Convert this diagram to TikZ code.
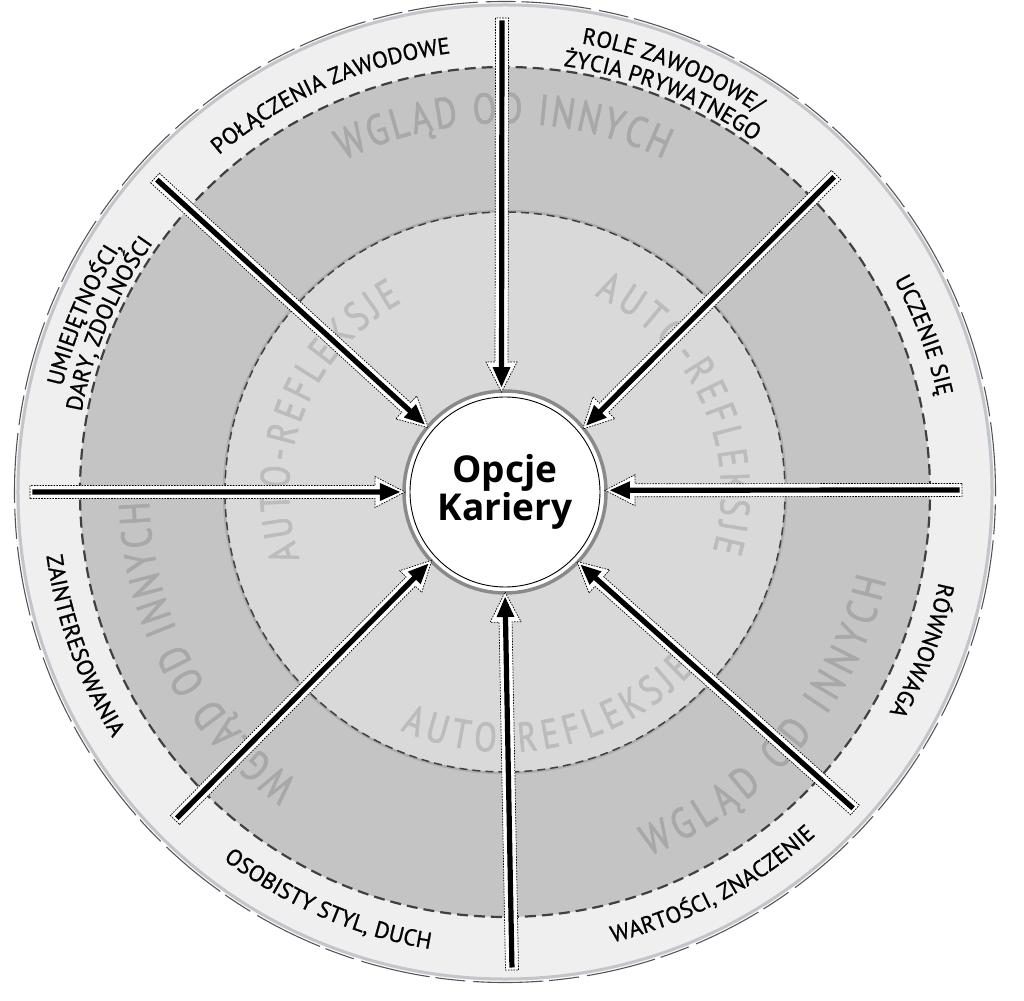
\documentclass[tikz,border=0pt]{standalone}
\usepackage{fontspec}
\setmainfont{Open Sans}
\newfontfamily\lblfamily[FakeBold=0.8]{PT Sans}
\newfontfamily\grayfamily[FakeBold=1.6,FakeStretch=0.8]{PT Sans}
\newfontfamily\ctrfamily{Open Sans}
\usetikzlibrary{decorations.text,decorations.markings}
\definecolor{bandcol}{HTML}{EFEFEF}
\definecolor{ringcol}{HTML}{C4C4C4}
\definecolor{diskcol}{HTML}{D9D9D9}
\definecolor{dashcol}{HTML}{404040}
\definecolor{rimlight}{HTML}{C2C6CA}
\definecolor{rimdark}{HTML}{555555}
\definecolor{gtxtA}{HTML}{A8A8A8}
\definecolor{gtxtB}{HTML}{BCBCBC}
\definecolor{ringgray}{HTML}{8A8A8A}
\newcommand\lblsize{\lblfamily\fontsize{23}{23}\selectfont}
\newcommand\gsizeA{\grayfamily\fontsize{43}{43}\selectfont\color{gtxtA}}
\newcommand\gsizeB{\grayfamily\fontsize{41}{41}\selectfont\color{gtxtB}}
% clockwise label: centre angle, baseline radius, text
\newcommand\cwtext[3]{\path[decorate, decoration={text along path, text align=center, text={|\lblsize|#3}}] ({#1+60}:#2) arc[start angle={#1+60}, end angle={#1-60}, radius=#2];}
% counter-clockwise label
\newcommand\ccwtext[3]{\path[decorate, decoration={text along path, text align=center, text={|\lblsize|#3}}] ({#1-60}:#2) arc[start angle={#1-60}, end angle={#1+60}, radius=#2];}
% fitted grey text: start angle, end angle, baseline radius, format, text
\newcommand\fittext[5]{\path[decorate, decoration={text along path, text align=fit to path, text={|#4|#5}}] (#1:#3) arc[start angle=#1, end angle=#2, radius=#3];}
\tikzset{
  bigarrow/.style={postaction={decorate, decoration={markings, mark=at position 0 with {
     \pgfmathsetmacro\arrL{\pgfdecoratedpathlength}
     \filldraw[fill=white, draw=black, line width=0.7pt, dash pattern=on 1.6pt off 1.2pt]
        (0,-6.5) -- ({\arrL-30},-6.5) -- ({\arrL-30},-15.5) -- (\arrL,0) -- ({\arrL-30},15.5) -- ({\arrL-30},6.5) -- (0,6.5) -- cycle;
     \fill[black] (2.5,-2.6) -- ({\arrL-25},-2.6) -- ({\arrL-25},-9) -- ({\arrL-5},0) -- ({\arrL-25},9) -- ({\arrL-25},2.6) -- (2.5,2.6) -- cycle;
  }}}},
  centre/.style={circle, fill=white, minimum size=200pt, inner sep=0pt, outer sep=0pt, align=center,
     font=\ctrfamily\bfseries\fontsize{37}{32}\selectfont}
}
\begin{document}
\begin{tikzpicture}[x=1pt,y=1pt]
\useasboundingbox (-505,-508) rectangle (519,492);
\fill[white] (-505,-508) rectangle (519,492);
% rings
\fill[bandcol] (0,0) circle[radius=489];
\draw[rimlight, line width=3pt] (0,0) circle[radius=487];
\draw[rimdark, line width=1.1pt, dash pattern=on 70pt off 6pt on 30pt off 8pt] (0,0) circle[radius=490.5];
\fill[ringcol] (0,0) circle[radius=425];
\draw[dashcol, line width=2.2pt, dash pattern=on 11pt off 6pt] (0,0) circle[radius=425];
\fill[diskcol] (0,0) circle[radius=280];
\draw[ringgray!70, line width=2.5pt] (0,0) circle[radius=281];
\draw[dashcol, line width=1.5pt, dash pattern=on 8pt off 5pt] (0,0) circle[radius=280];
% grey texts
\fittext{116}{64.5}{369}{\gsizeA}{WGLĄD OD INNYCH}
\fittext{234.5}{181.5}{356}{\gsizeA}{WGLĄD OD INNYCH}
\fittext{-68.5}{-13}{391}{\gsizeA}{WGLĄD OD INNYCH}
\fittext{198}{118.5}{216}{\gsizeB}{AUTO-REFLEKSJE}
\fittext{65.5}{-15.8}{216}{\gsizeB}{AUTO-REFLEKSJE}
\fittext{246.3}{316.7}{260}{\gsizeB}{AUTO-REFLEKSJE}
% centre
\node[centre] (c) at (0,0) {Opcje\\Kariery};
\draw[ringgray, line width=3.5pt] (c.center) circle[radius=101];
\draw[black, line width=0.9pt] (c.center) circle[radius=95];
% arrow tails
\coordinate (tT) at (-3,474);
\coordinate (tUR) at (331,317);
\coordinate (tR) at (457,2);
\coordinate (tLR) at (350,-318);
\coordinate (tB) at (7,-478);
\coordinate (tLL) at (-330,-328);
\coordinate (tL) at (-475,0);
\coordinate (tUL) at (-350,314);
\path[bigarrow] (tT) -- (c.92);
\path[bigarrow] (tUR) -- (c.39);
\path[bigarrow] (tR) -- (c.1);
\path[bigarrow] (tLR) -- (c.-44);
\path[bigarrow] (tB) -- (c.-90);
\path[bigarrow] (tLL) -- (c.223);
\path[bigarrow] (tL) -- (c.180);
\path[bigarrow] (tUL) -- (c.140);
% labels
\cwtext{113.7}{442}{POŁĄCZENIA ZAWODOWE}
\cwtext{68.3}{455}{ROLE ZAWODOWE/}
\cwtext{68.4}{430}{ŻYCIA PRYWATNEGO}
\cwtext{20.5}{443}{UCZENIE SIĘ}
\cwtext{-20.8}{443}{RÓWNOWAGA}
\cwtext{157}{455}{UMIEJĘTNOŚCI,}
\cwtext{157}{431}{DARY, ZDOLNOŚCI}
\ccwtext{-62.2}{463}{WARTOŚCI, ZNACZENIE}
\ccwtext{246.6}{463}{OSOBISTY STYL, DUCH}
\ccwtext{200}{463}{ZAINTERESOWANIA}
\end{tikzpicture}
\end{document}
